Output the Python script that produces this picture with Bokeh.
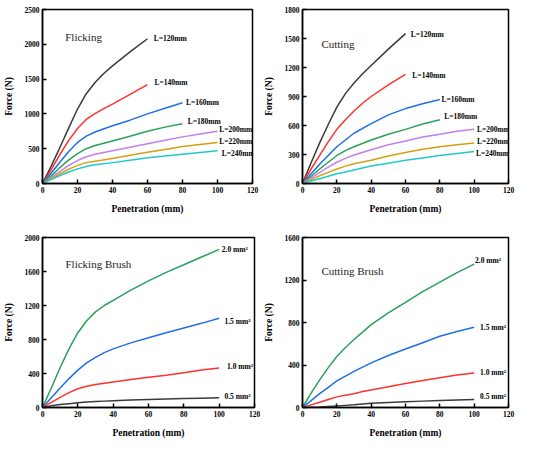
from bokeh.plotting import figure
from bokeh.layouts import column, row
from bokeh.models import Range1d, FixedTicker
from bokeh.core.properties import value
from bokeh.embed import file_html
from bokeh.resources import INLINE

# ---- data ----
X60 = [0, 5, 10, 15, 20, 25, 30, 35, 40, 50, 60]
X80 = [0, 5, 10, 15, 20, 25, 30, 40, 50, 60, 70, 80]
X100 = [0, 5, 10, 15, 20, 25, 30, 40, 50, 60, 70, 80, 90, 100]
XB = [0, 5, 10, 15, 20, 25, 30, 35, 40, 50, 60, 70, 80, 90, 100]

# Flicking
FL_120 = [0, 250, 520, 800, 1070, 1290, 1450, 1580, 1690, 1890, 2080]
FL_140 = [0, 200, 420, 620, 790, 920, 1005, 1075, 1140, 1280, 1420]
FL_160 = [0, 150, 310, 460, 590, 680, 740, 830, 910, 1000, 1080, 1160]
FL_180 = [0, 110, 230, 340, 430, 500, 545, 610, 680, 750, 810, 860]
FL_200 = [0, 85, 175, 260, 330, 385, 420, 470, 520, 570, 620, 670, 710, 750]
FL_220 = [0, 70, 140, 205, 260, 300, 320, 360, 405, 450, 490, 530, 560, 590]
FL_240 = [0, 55, 115, 165, 210, 245, 270, 300, 335, 370, 395, 420, 445, 470]

# Cutting
CU_120 = [0, 215, 420, 610, 790, 930, 1040, 1135, 1220, 1390, 1550]
CU_140 = [0, 150, 290, 430, 560, 660, 750, 830, 900, 1020, 1130]
CU_160 = [0, 100, 200, 290, 380, 450, 520, 620, 710, 775, 825, 870]
CU_180 = [0, 75, 150, 220, 290, 340, 380, 450, 510, 560, 615, 660]
CU_200 = [0, 55, 115, 170, 220, 260, 295, 350, 400, 440, 480, 510, 540, 560]
CU_220 = [0, 40, 80, 115, 150, 180, 205, 240, 285, 320, 355, 380, 400, 420]
CU_240 = [0, 25, 50, 75, 100, 120, 140, 180, 210, 240, 265, 290, 310, 330]

# Flicking Brush
FB_20 = [0, 230, 470, 690, 880, 1020, 1125, 1200, 1260, 1380, 1490, 1590, 1680, 1770, 1860]
FB_15 = [0, 115, 230, 340, 440, 525, 590, 645, 690, 760, 820, 880, 935, 990, 1050]
FB_10 = [0, 60, 120, 175, 220, 250, 270, 285, 300, 330, 355, 380, 410, 440, 465]
FB_05 = [0, 20, 35, 45, 55, 65, 70, 75, 80, 88, 95, 100, 105, 110, 115]

# Cutting Brush
CB_20 = [0, 135, 260, 375, 480, 565, 640, 710, 780, 890, 990, 1090, 1180, 1270, 1350]
CB_15 = [0, 65, 130, 190, 250, 295, 340, 380, 420, 490, 550, 610, 670, 715, 755]
CB_10 = [0, 25, 50, 75, 100, 115, 130, 150, 165, 195, 225, 255, 280, 305, 325]
CB_05 = [0, 2, 5, 10, 15, 20, 25, 32, 40, 48, 55, 60, 65, 70, 75]

L_LABELS = ["L=120mm", "L=140mm", "L=160mm", "L=180mm", "L=200mm", "L=220mm", "L=240mm"]
FL_LAB_X = [63.5, 64, 82, 83, 101, 101, 102.4]
FL_LAB_Y = [2090, 1456, 1164, 886, 780, 603, 426]
CU_LAB_X = [63, 64, 81, 82.6, 101.7, 101.7, 101]
CU_LAB_Y = [1545, 1121, 869, 693, 559, 438, 314]

A_LABELS = ["2.0 mm²", "1.5 mm²", "1.0 mm²", "0.5 mm²"]
FB_LAB_X = [101.5, 103, 104.5, 103]
FB_LAB_Y = [1854, 1017, 484, 128]
CB_LAB_X = [100.5, 103.4, 103.4, 103.4]
CB_LAB_Y = [1384, 753, 327, 102]

X_TICKS = [0, 20, 40, 60, 80, 100, 120]

COL_K = "#3a3a3a"
COL_R = "#ff3030"
COL_B = "#1f6fe5"
COL_G = "#2aa05a"
COL_V = "#c27ff0"
COL_Y = "#d4a012"
COL_C = "#20c8d0"

SERIF = "Liberation Serif"
SERIF_Q = "'Liberation Serif', serif"


def make_fig(w, h, ymax, yticks, title, tx, ty, bl, br, bt, bb):
    p = figure(width=w, height=h, output_backend="svg", toolbar_location=None,
               x_range=Range1d(0, 120), y_range=Range1d(0, ymax),
               min_border_left=bl, min_border_right=br,
               min_border_top=bt, min_border_bottom=bb)
    p.grid.visible = False
    p.outline_line_color = "black"
    p.outline_line_width = 1.5
    p.background_fill_color = "white"
    p.border_fill_color = "white"
    p.xaxis.ticker = FixedTicker(ticks=X_TICKS)
    p.yaxis.ticker = FixedTicker(ticks=yticks)
    p.xaxis.axis_label = "Penetration (mm)"
    p.yaxis.axis_label = "Force (N)"
    for ax in (p.xaxis[0], p.yaxis[0]):
        ax.axis_line_color = "black"
        ax.axis_line_width = 1.5
        ax.major_tick_in = 4
        ax.major_tick_out = 0
        ax.major_tick_line_width = 1.5
        ax.minor_tick_line_color = None
        ax.major_label_text_font = SERIF_Q
        ax.major_label_text_font_style = "bold"
        ax.major_label_text_font_size = "7.5px"
        ax.major_label_text_color = "black"
        ax.axis_label_text_font = SERIF_Q
        ax.axis_label_text_font_style = "bold"
        ax.axis_label_text_font_size = "9.5px"
        ax.axis_label_text_color = "black"
        ax.major_label_standoff = 3
        ax.axis_label_standoff = 8
    p.text(x=[tx], y=[ty], text=[title], text_font=value(SERIF),
           text_font_size="11px", text_baseline="middle", text_align="left",
           text_color="#222222")
    return p


def add_labels(p, xs, ys, labels):
    p.text(x=xs, y=ys, text=labels, text_font=value(SERIF), text_font_style="bold",
           text_font_size="7.5px", text_baseline="middle", text_align="left",
           text_color="black")


# Flicking
p1 = make_fig(260, 216, 2500, [0, 500, 1000, 1500, 2000, 2500], "Flicking", 13, 2112,
              38, 8, 9, 33)
for xs, ys, c in [(X60, FL_120, COL_K), (X60, FL_140, COL_R), (X80, FL_160, COL_B),
                  (X80, FL_180, COL_G), (X100, FL_200, COL_V), (X100, FL_220, COL_Y),
                  (X100, FL_240, COL_C)]:
    p1.line(xs, ys, line_color=c, line_width=1.5, line_join="round")
add_labels(p1, FL_LAB_X, FL_LAB_Y, L_LABELS)

# Cutting
p2 = make_fig(256, 216, 1800, [0, 300, 600, 900, 1200, 1500, 1800], "Cutting", 11, 1438,
              42, 8, 9, 33)
for xs, ys, c in [(X60, CU_120, COL_K), (X60, CU_140, COL_R), (X80, CU_160, COL_B),
                  (X80, CU_180, COL_G), (X100, CU_200, COL_V), (X100, CU_220, COL_Y),
                  (X100, CU_240, COL_C)]:
    p2.line(xs, ys, line_color=c, line_width=1.5, line_join="round")
add_labels(p2, CU_LAB_X, CU_LAB_Y, L_LABELS)

# Flicking Brush
p3 = make_fig(260, 224, 2000, [0, 400, 800, 1200, 1600, 2000], "Flicking Brush", 13, 1692,
              33, 6, 21, 32)
for ys, c in [(FB_20, COL_G), (FB_15, COL_B), (FB_10, COL_R), (FB_05, COL_K)]:
    p3.line(XB, ys, line_color=c, line_width=1.5, line_join="round")
add_labels(p3, FB_LAB_X, FB_LAB_Y, A_LABELS)

# Cutting Brush
p4 = make_fig(256, 224, 1600, [0, 400, 800, 1200, 1600], "Cutting Brush", 11, 1282,
              42, 8, 21, 32)
for ys, c in [(CB_20, COL_G), (CB_15, COL_B), (CB_10, COL_R), (CB_05, COL_K)]:
    p4.line(XB, ys, line_color=c, line_width=1.5, line_join="round")
add_labels(p4, CB_LAB_X, CB_LAB_Y, A_LABELS)

layout = column(row(p1, p2), row(p3, p4))
open("out.html", "w").write(file_html(layout, INLINE))
